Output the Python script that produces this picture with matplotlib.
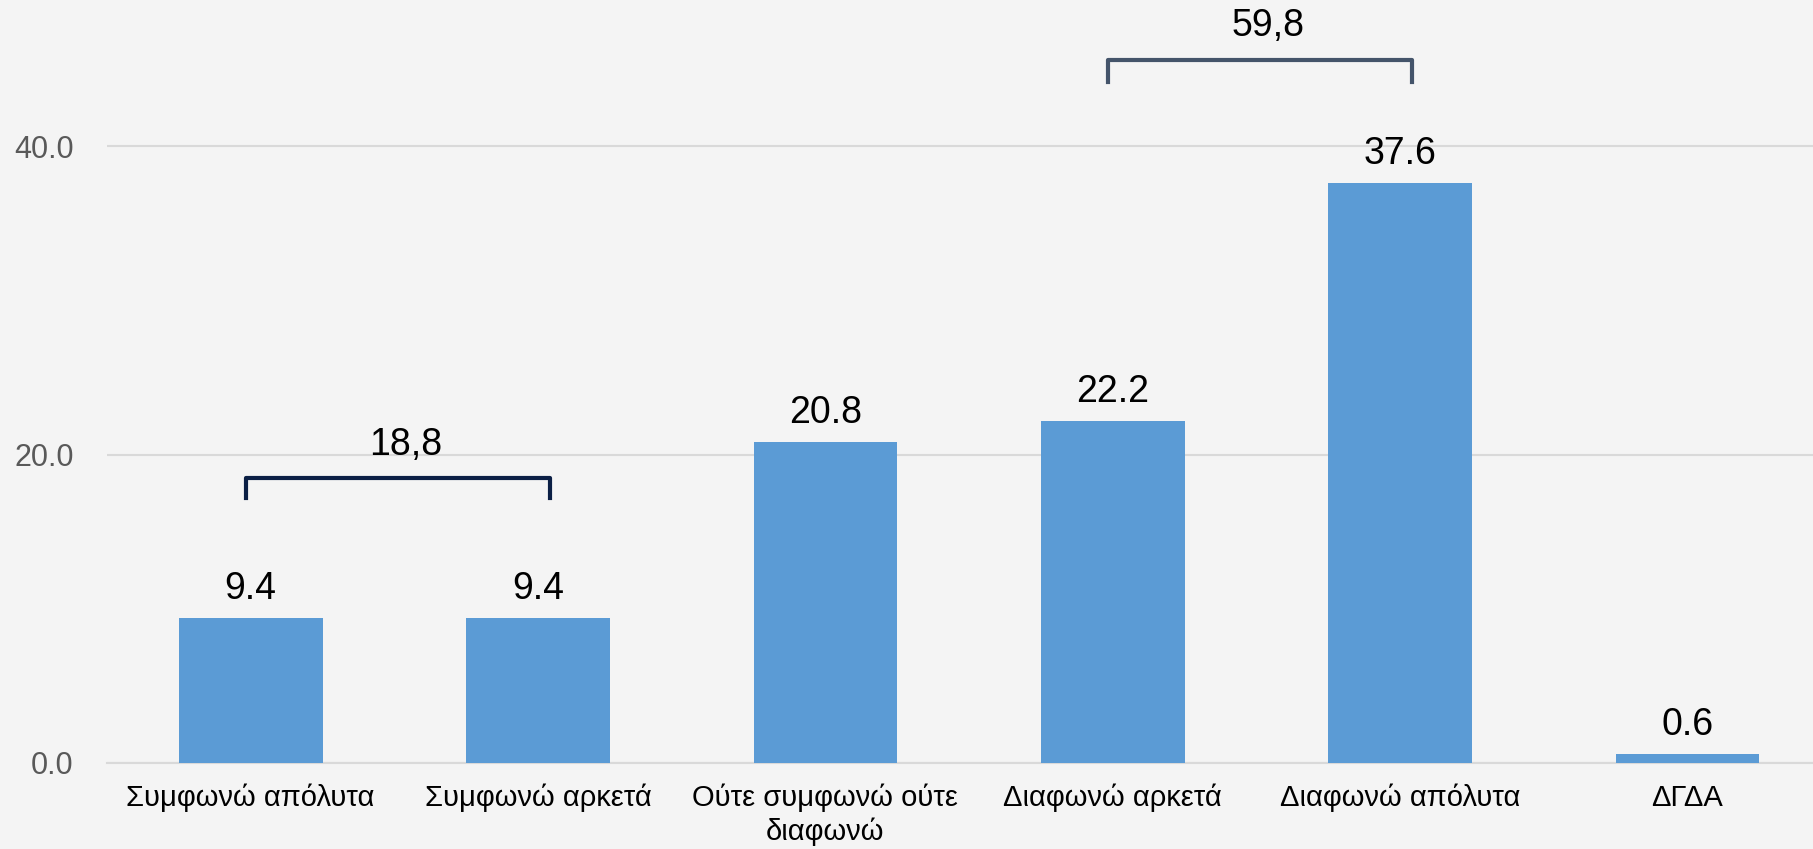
import numpy as np
import matplotlib
matplotlib.use("Agg")
import matplotlib.pyplot as plt

plt.rcParams['font.family'] = ['Liberation Sans', 'DejaVu Sans']

# Δεδομένα
categories = ["Συμφωνώ απόλυτα", "Συμφωνώ αρκετά", "Ούτε συμφωνώ ούτε\nδιαφωνώ",
              "Διαφωνώ αρκετά", "Διαφωνώ απόλυτα", "ΔΓΔΑ"]
values = [9.4, 9.4, 20.8, 22.2, 37.6, 0.6]
yticks = [0, 20, 40]
# αθροίσματα (άγκιστρα): (από, έως, κείμενο)
group_left = (0, 1, "18,8")
group_right = (3, 4, "59,8")

bg = '#F4F4F4'
fig = plt.figure(figsize=(18.13, 8.49), dpi=100, facecolor=bg)
ax = fig.add_axes([107/1813, 86/849, 1 - 107/1813, 1 - 86/849])
ax.set_facecolor(bg)

x = np.arange(len(categories))
bars = ax.bar(x, values, width=0.5, color='#5B9BD5', zorder=3)

for xi, v in zip(x, values):
    ax.annotate(f"{v:.1f}", (xi, v), xytext=(0, 21), textcoords='offset points',
                ha='center', va='center', fontsize=27, color='black')

ax.set_xlim(-0.5, 5.437)
ax.set_ylim(0, 49.5)
ax.set_yticks(yticks)
ax.set_yticklabels([f"{t:.1f}" for t in yticks], fontsize=22, color='#595959')
ax.set_xticks(x)
ax.set_xticklabels(categories, fontsize=21, color='black', linespacing=1.25)
ax.tick_params(axis='both', length=0)
ax.tick_params(axis='y', pad=24)
ax.tick_params(axis='x', pad=15)
ax.grid(axis='y', color='#D9D9D9', linewidth=1.5, zorder=0)
for s in ['top', 'right', 'left']:
    ax.spines[s].set_visible(False)
ax.spines['bottom'].set_color('#D9D9D9')
ax.spines['bottom'].set_linewidth(1.5)

# άγκιστρα
def bracket(i0, i1, y, h, ty, label, color):
    xs = [i0 - 0.015, i0 - 0.015, i1 + 0.04, i1 + 0.04]
    ys = [y - h, y, y, y - h]
    ax.plot(xs, ys, color=color, linewidth=3, solid_joinstyle='round', zorder=4)
    ax.text((i0 + i1) / 2 + 0.04, ty, label, ha='center', va='center', fontsize=27)

bracket(group_left[0], group_left[1], 18.5, 1.3, 20.6, group_left[2], '#0B1F45')
bracket(group_right[0], group_right[1], 45.6, 1.4, 47.8, group_right[2], '#44546A')

fig.savefig('out.png', dpi=100, facecolor=bg)
